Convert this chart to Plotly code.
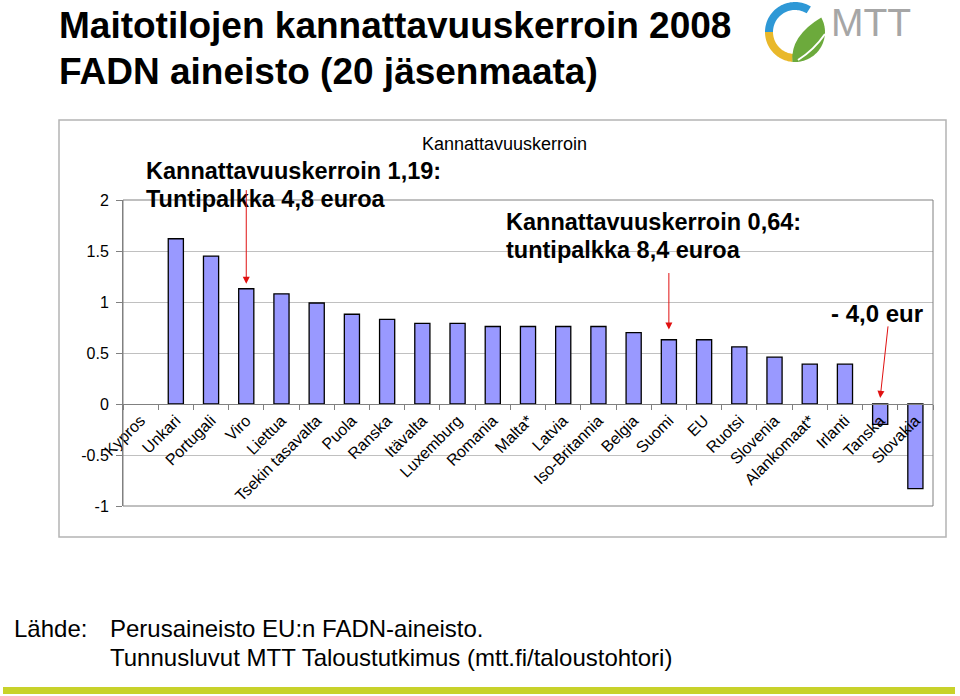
import numpy as np
import plotly.graph_objects as go

W, H = 960, 696

# data
maat = ['Kypros', 'Unkari', 'Portugali', 'Viro', 'Liettua', 'Tsekin tasavalta', 'Puola',
        'Ranska', 'Itävalta', 'Luxemburg', 'Romania', 'Malta*', 'Latvia', 'Iso-Britannia',
        'Belgia', 'Suomi', 'EU', 'Ruotsi', 'Slovenia', 'Alankomaat*', 'Irlanti', 'Tanska',
        'Slovakia']
kerroin = [None, 1.62, 1.45, 1.13, 1.08, 0.99, 0.88, 0.83, 0.79, 0.79, 0.76, 0.76, 0.76,
           0.76, 0.70, 0.63, 0.63, 0.56, 0.46, 0.39, 0.39, -0.20, -0.83]
y_ticks = [-1, -0.5, 0, 0.5, 1, 1.5, 2]
y_labels = ['-1', '-0.5', '0', '0.5', '1', '1.5', '2']

FONT = 'Liberation Sans, Arial, sans-serif'


def px(x):
    return x / W


def py(y):
    return 1 - y / H


# plot area in pixels
left, right, top, bottom = 123, 933, 200, 506
xdom = [px(left), px(right)]
ydom = [py(bottom), py(top)]
yr = [-1, 2]
zero_pos = ydom[0] + (0 - yr[0]) / (yr[1] - yr[0]) * (ydom[1] - ydom[0])

fig = go.Figure()
fig.add_trace(go.Bar(x=maat, y=kerroin, width=0.43,
                     marker=dict(color='#9999ff', line=dict(color='black', width=1.3)),
                     showlegend=False, hoverinfo='x+y'))

fig.update_layout(
    width=W, height=H, margin=dict(l=0, r=0, t=0, b=0, autoexpand=False),
    paper_bgcolor='white', plot_bgcolor='white',
    font=dict(family=FONT, color='black'),
    bargap=0.5,
    xaxis=dict(type='category', domain=xdom, range=[-0.5, len(maat) - 0.5],
               anchor='free', position=zero_pos, showline=True, linecolor='#808080',
               linewidth=1, ticks='outside', tickson='boundaries', ticklen=5,
               tickcolor='#808080', tickangle=-45, tickfont=dict(size=16),
               showgrid=False, zeroline=False, fixedrange=True, automargin=False),
    yaxis=dict(domain=ydom, range=yr, tickvals=y_ticks, ticktext=y_labels,
               showgrid=True, gridcolor='#c0c0c0', gridwidth=1, showline=True,
               linecolor='#808080', ticks='outside', ticklen=6, tickcolor='#808080',
               tickfont=dict(size=16), ticklabelstandoff=4, zeroline=False,
               fixedrange=True, automargin=False),
)

shapes = []
# outer chart frame
shapes.append(dict(type='rect', xref='paper', yref='paper', x0=px(59), x1=px(946),
                   y0=py(537), y1=py(120), line=dict(color='#b4b4b4', width=1.5)))
# plot area frame
shapes.append(dict(type='rect', xref='x domain', yref='y domain', x0=0, x1=1, y0=0, y1=1,
                   line=dict(color='#808080', width=1)))
# bottom green band
shapes.append(dict(type='rect', xref='paper', yref='paper', x0=px(3), x1=px(955),
                   y0=py(694), y1=py(687), fillcolor='#c8d22a', line=dict(width=0)))


# logo
def ring(cx, cy, r1, r2, a0, a1):
    t = np.radians(np.linspace(a0, a1, 40))
    outer = [(cx + r1 * np.cos(a), cy - r1 * np.sin(a)) for a in t]
    inner = [(cx + r2 * np.cos(a), cy - r2 * np.sin(a)) for a in t[::-1]]
    pts = outer + inner
    return 'M ' + ' L '.join('%.5f,%.5f' % (px(x), py(y)) for x, y in pts) + ' Z'


cx, cy = 795, 32
shapes.append(dict(type='path', xref='paper', yref='paper', path=ring(cx, cy, 30, 22, 58, 180),
                   fillcolor='#2e98d6', line=dict(width=0)))
shapes.append(dict(type='path', xref='paper', yref='paper', path=ring(cx, cy, 30, 22, 180, 265),
                   fillcolor='#e9b82a', line=dict(width=0)))
t = np.radians(np.linspace(-95, 29, 40))
leaf = [(cx + 30 * np.cos(a), cy - 30 * np.sin(a)) for a in t]
leaf_path = 'M ' + ' L '.join('%.5f,%.5f' % (px(x), py(y)) for x, y in leaf)
leaf_path += ' Q %.5f,%.5f %.5f,%.5f Z' % (px(790), py(36), px(leaf[0][0]), py(leaf[0][1]))
shapes.append(dict(type='path', xref='paper', yref='paper', path=leaf_path,
                   fillcolor='#6caa3c', line=dict(width=0)))
shapes.append(dict(type='path', xref='paper', yref='paper',
                   path='M %.5f,%.5f Q %.5f,%.5f %.5f,%.5f' % (px(798), py(60), px(814), py(50),
                                                               px(825), py(34)),
                   line=dict(color='white', width=2)))
fig.update_layout(shapes=shapes)

ann = []


def txt(x, y, s, size, bold=False, color='black', anchor='left'):
    ann.append(dict(xref='paper', yref='paper', x=px(x), y=py(y), text='<b>%s</b>' % s if bold else s,
                    showarrow=False, xanchor=anchor, yanchor='middle',
                    font=dict(size=size, color=color, family=FONT)))


txt(57, 26, 'Maitotilojen kannattavuuskerroin 2008', 37, bold=True)
txt(57, 71, 'FADN aineisto (20 jäsenmaata)', 37, bold=True)
txt(829, 22, 'MTT', 39, color='#a6a6a6')
txt(504, 144, 'Kannattavuuskerroin', 18, anchor='center')
txt(144, 171, 'Kannattavuuskerroin 1,19:', 23.5, bold=True)
txt(144, 199, 'Tuntipalkka 4,8 euroa', 23.5, bold=True)
txt(504, 222, 'Kannattavuuskerroin 0,64:', 23.5, bold=True)
txt(504, 250, 'tuntipalkka 8,4 euroa', 23.5, bold=True)
txt(925, 313, '- 4,0 eur', 24, bold=True, anchor='right')
txt(12, 628, 'Lähde:', 24)
txt(108, 628, 'Perusaineisto EU:n FADN-aineisto.', 24)
txt(108, 657, 'Tunnusluvut MTT Taloustutkimus (mtt.fi/taloustohtori)', 24)

# red arrows pointing at bars
for i, gap, ax, ay in [(3, 0.05, 0, -95), (15, 0.10, 0, -58), (21, 0.06, 8, -73)]:
    ann.append(dict(x=maat[i], y=max(kerroin[i], 0) + gap, xref='x', yref='y',
                    showarrow=True, arrowhead=2, arrowsize=1.4, arrowwidth=1,
                    arrowcolor='#e01010', ax=ax, ay=ay, text=''))

fig.update_layout(annotations=ann)

# page body has a default 8px margin; remove it so the figure fills the window
fig.write_html("out.html", config={'displayModeBar': False},
               post_script="document.body.style.margin='0';")
